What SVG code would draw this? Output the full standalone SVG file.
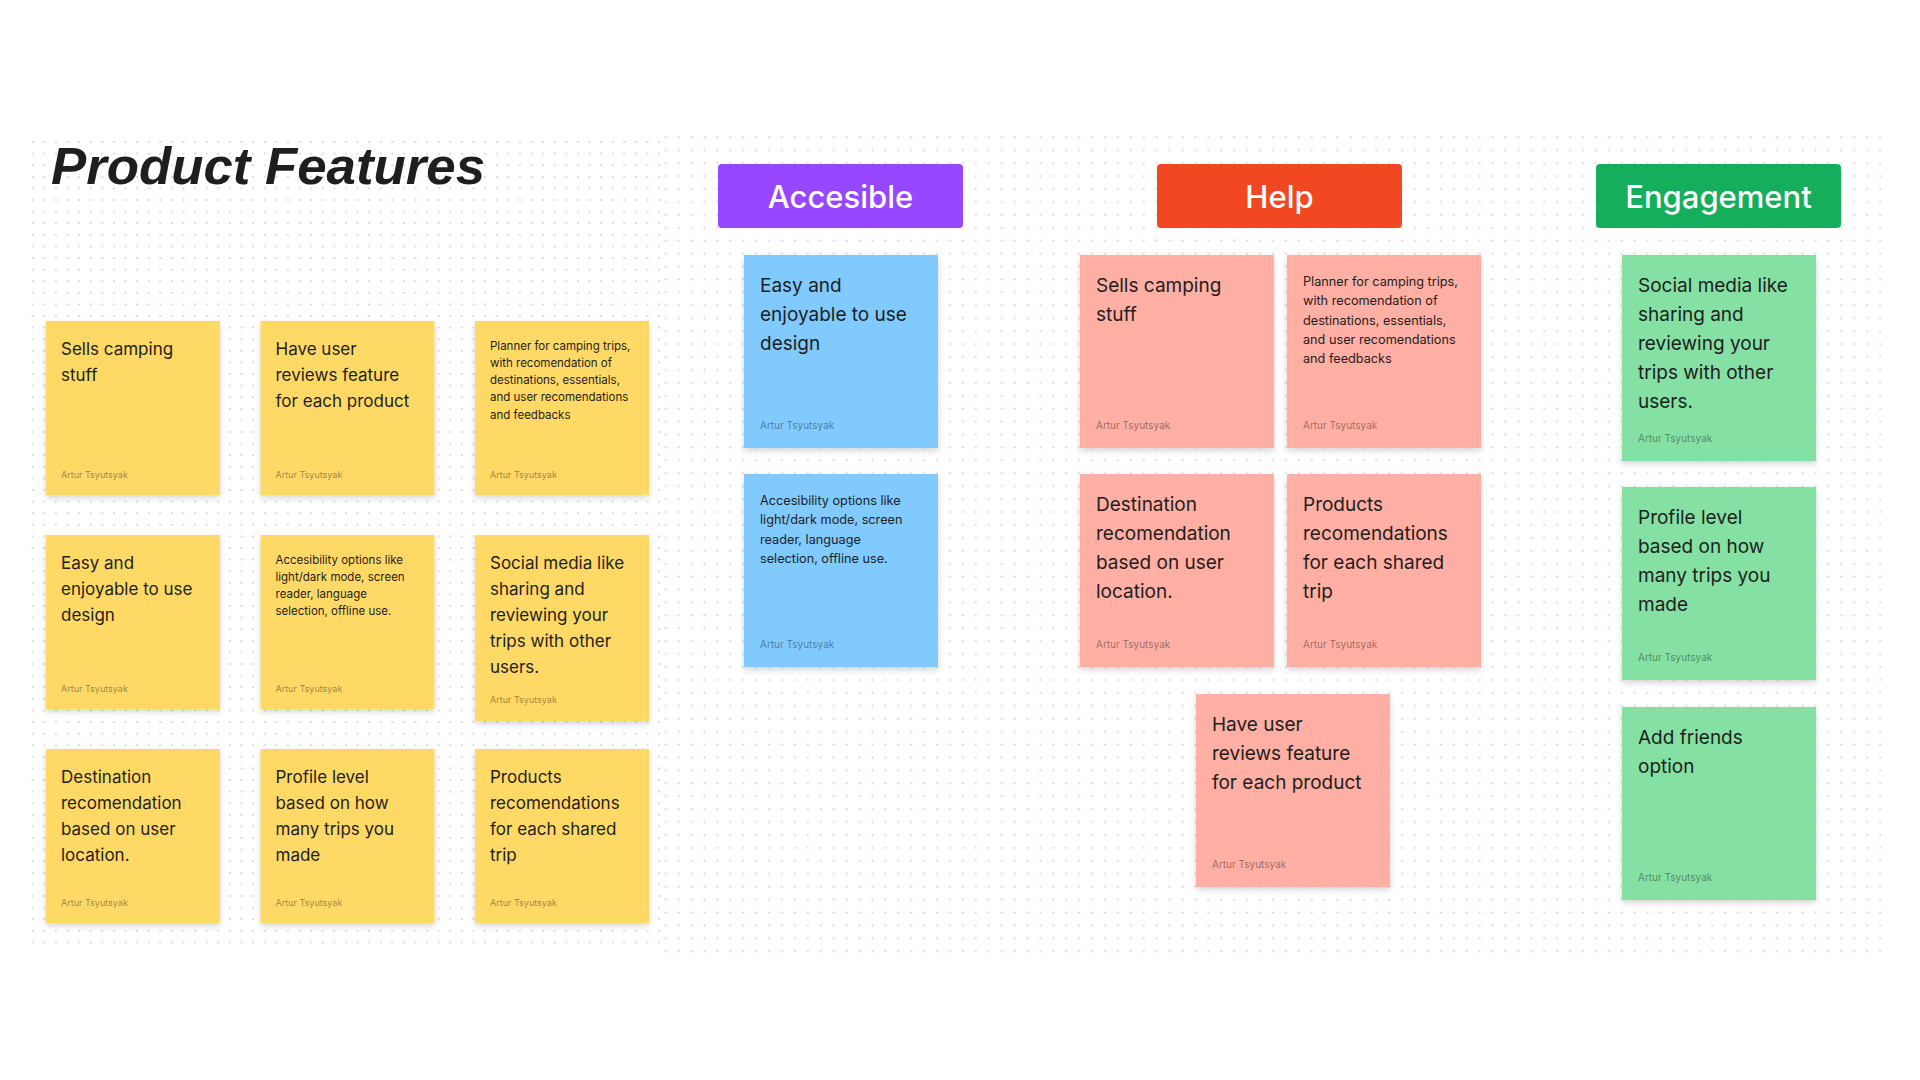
<svg xmlns="http://www.w3.org/2000/svg" width="1920" height="1080" viewBox="0 0 1920 1080">
  <defs>
    <pattern id="dots-a" patternUnits="userSpaceOnUse" x="26.9" y="136.2" width="11.6" height="11.6">
      <circle cx="5.8" cy="5.8" r="1.05" fill="#d2d2d2"/>
    </pattern>
    <pattern id="dots-b" patternUnits="userSpaceOnUse" x="659.24" y="130.84" width="12.92" height="12.92">
      <circle cx="6.46" cy="6.46" r="1.1" fill="#d2d2d2"/>
    </pattern>
    <filter id="sticky-shadow" x="-10%" y="-10%" width="120%" height="125%">
      <feDropShadow dx="0" dy="3" stdDeviation="3" flood-color="#000" flood-opacity="0.16"/>
    </filter>
  </defs>
  <style>
    .sticky { filter: url(#sticky-shadow); }
    .yellow { fill: #FFD966; }
    .blue { fill: #80CAFF; }
    .red { fill: #FFAFA3; }
    .green { fill: #85E0A3; }
    text { font-family: Inter, "Noto Sans", "Liberation Sans", sans-serif; }
    .lg { font-size: 17px; fill: #1E1E1E; }
    .sm { font-size: 11.5px; fill: #1E1E1E; }
    .au { font-size: 9px; fill: #000; fill-opacity: 0.42; }
    .lg2 { font-size: 19px; fill: #1E1E1E; }
    .sm2 { font-size: 12.7px; fill: #1E1E1E; }
    .au2 { font-size: 10px; fill: #000; fill-opacity: 0.42; }
    .hdr { font-size: 31px; font-weight: 500; fill: #FFFFFF; text-anchor: middle; }
    .title { font-family: "Liberation Sans", Arial, sans-serif; font-size: 52px; font-weight: bold; font-style: italic; fill: #1E1E1E; }
  </style>

  <rect width="1920" height="1080" fill="#FFFFFF"/>

  <!-- dotted canvas areas -->
  <rect x="26.9" y="136.2" width="638" height="812" fill="url(#dots-a)"/>
  <rect x="659.24" y="130.84" width="1227.4" height="826.9" fill="url(#dots-b)"/>

  <g id="title">
    <text class="title" x="51" y="184" textLength="434" lengthAdjust="spacingAndGlyphs">Product Features</text>
  </g>

  <!-- brainstorm stickies -->
  <g id="y-sells" transform="translate(46,321)">
    <rect class="sticky yellow" width="174" height="174"/>
    <text class="lg"><tspan x="15" y="34">Sells camping</tspan><tspan x="15" dy="26">stuff</tspan></text>
    <text class="au" x="15" y="157">Artur Tsyutsyak</text>
  </g>
  <g id="y-reviews" transform="translate(260.5,321)">
    <rect class="sticky yellow" width="174" height="174"/>
    <text class="lg"><tspan x="15" y="34">Have user</tspan><tspan x="15" dy="26">reviews feature</tspan><tspan x="15" dy="26">for each product</tspan></text>
    <text class="au" x="15" y="157">Artur Tsyutsyak</text>
  </g>
  <g id="y-planner" transform="translate(475,321)">
    <rect class="sticky yellow" width="174" height="174"/>
    <text class="sm"><tspan x="15" y="28.5">Planner for camping trips,</tspan><tspan x="15" dy="17.3">with recomendation of</tspan><tspan x="15" dy="17.3">destinations, essentials,</tspan><tspan x="15" dy="17.3">and user recomendations</tspan><tspan x="15" dy="17.3">and feedbacks</tspan></text>
    <text class="au" x="15" y="157">Artur Tsyutsyak</text>
  </g>
  <g id="y-easy" transform="translate(46,535)">
    <rect class="sticky yellow" width="174" height="174"/>
    <text class="lg"><tspan x="15" y="34">Easy and</tspan><tspan x="15" dy="26">enjoyable to use</tspan><tspan x="15" dy="26">design</tspan></text>
    <text class="au" x="15" y="157">Artur Tsyutsyak</text>
  </g>
  <g id="y-accessibility" transform="translate(260.5,535)">
    <rect class="sticky yellow" width="174" height="174"/>
    <text class="sm"><tspan x="15" y="28.5">Accesibility options like</tspan><tspan x="15" dy="17.3">light/dark mode, screen</tspan><tspan x="15" dy="17.3">reader, language</tspan><tspan x="15" dy="17.3">selection, offline use.</tspan></text>
    <text class="au" x="15" y="157">Artur Tsyutsyak</text>
  </g>
  <g id="y-social" transform="translate(475,535)">
    <rect class="sticky yellow" width="174" height="186"/>
    <text class="lg"><tspan x="15" y="34">Social media like</tspan><tspan x="15" dy="26">sharing and</tspan><tspan x="15" dy="26">reviewing your</tspan><tspan x="15" dy="26">trips with other</tspan><tspan x="15" dy="26">users.</tspan></text>
    <text class="au" x="15" y="168">Artur Tsyutsyak</text>
  </g>
  <g id="y-destination" transform="translate(46,749)">
    <rect class="sticky yellow" width="174" height="174"/>
    <text class="lg"><tspan x="15" y="34">Destination</tspan><tspan x="15" dy="26">recomendation</tspan><tspan x="15" dy="26">based on user</tspan><tspan x="15" dy="26">location.</tspan></text>
    <text class="au" x="15" y="157">Artur Tsyutsyak</text>
  </g>
  <g id="y-profile" transform="translate(260.5,749)">
    <rect class="sticky yellow" width="174" height="174"/>
    <text class="lg"><tspan x="15" y="34">Profile level</tspan><tspan x="15" dy="26">based on how</tspan><tspan x="15" dy="26">many trips you</tspan><tspan x="15" dy="26">made</tspan></text>
    <text class="au" x="15" y="157">Artur Tsyutsyak</text>
  </g>
  <g id="y-products" transform="translate(475,749)">
    <rect class="sticky yellow" width="174" height="174"/>
    <text class="lg"><tspan x="15" y="34">Products</tspan><tspan x="15" dy="26">recomendations</tspan><tspan x="15" dy="26">for each shared</tspan><tspan x="15" dy="26">trip</tspan></text>
    <text class="au" x="15" y="157">Artur Tsyutsyak</text>
  </g>

  <!-- category headers -->
  <g id="h-accesible" transform="translate(718,164)">
    <rect width="245" height="64" rx="4" fill="#9747FF"/>
    <text class="hdr" x="122.5" y="44">Accesible</text>
  </g>
  <g id="h-help" transform="translate(1157,164)">
    <rect width="245" height="64" rx="4" fill="#F24822"/>
    <text class="hdr" x="122.5" y="44">Help</text>
  </g>
  <g id="h-engagement" transform="translate(1596,164)">
    <rect width="245" height="64" rx="4" fill="#14AE5C"/>
    <text class="hdr" x="122.5" y="44">Engagement</text>
  </g>

  <!-- Accesible column -->
  <g id="b-easy" transform="translate(744,255)">
    <rect class="sticky blue" width="194" height="193"/>
    <text class="lg2"><tspan x="16" y="37">Easy and</tspan><tspan x="16" dy="29">enjoyable to use</tspan><tspan x="16" dy="29">design</tspan></text>
    <text class="au2" x="16" y="174">Artur Tsyutsyak</text>
  </g>
  <g id="b-accessibility" transform="translate(744,474)">
    <rect class="sticky blue" width="194" height="193"/>
    <text class="sm2"><tspan x="16" y="31">Accesibility options like</tspan><tspan x="16" dy="19.3">light/dark mode, screen</tspan><tspan x="16" dy="19.3">reader, language</tspan><tspan x="16" dy="19.3">selection, offline use.</tspan></text>
    <text class="au2" x="16" y="174">Artur Tsyutsyak</text>
  </g>

  <!-- Help column -->
  <g id="r-sells" transform="translate(1080,255)">
    <rect class="sticky red" width="194" height="193"/>
    <text class="lg2"><tspan x="16" y="37">Sells camping</tspan><tspan x="16" dy="29">stuff</tspan></text>
    <text class="au2" x="16" y="174">Artur Tsyutsyak</text>
  </g>
  <g id="r-planner" transform="translate(1287,255)">
    <rect class="sticky red" width="194" height="193"/>
    <text class="sm2"><tspan x="16" y="31">Planner for camping trips,</tspan><tspan x="16" dy="19.3">with recomendation of</tspan><tspan x="16" dy="19.3">destinations, essentials,</tspan><tspan x="16" dy="19.3">and user recomendations</tspan><tspan x="16" dy="19.3">and feedbacks</tspan></text>
    <text class="au2" x="16" y="174">Artur Tsyutsyak</text>
  </g>
  <g id="r-destination" transform="translate(1080,474)">
    <rect class="sticky red" width="194" height="193"/>
    <text class="lg2"><tspan x="16" y="37">Destination</tspan><tspan x="16" dy="29">recomendation</tspan><tspan x="16" dy="29">based on user</tspan><tspan x="16" dy="29">location.</tspan></text>
    <text class="au2" x="16" y="174">Artur Tsyutsyak</text>
  </g>
  <g id="r-products" transform="translate(1287,474)">
    <rect class="sticky red" width="194" height="193"/>
    <text class="lg2"><tspan x="16" y="37">Products</tspan><tspan x="16" dy="29">recomendations</tspan><tspan x="16" dy="29">for each shared</tspan><tspan x="16" dy="29">trip</tspan></text>
    <text class="au2" x="16" y="174">Artur Tsyutsyak</text>
  </g>
  <g id="r-reviews" transform="translate(1196,694)">
    <rect class="sticky red" width="194" height="193"/>
    <text class="lg2"><tspan x="16" y="37">Have user</tspan><tspan x="16" dy="29">reviews feature</tspan><tspan x="16" dy="29">for each product</tspan></text>
    <text class="au2" x="16" y="174">Artur Tsyutsyak</text>
  </g>

  <!-- Engagement column -->
  <g id="g-social" transform="translate(1622,255)">
    <rect class="sticky green" width="194" height="206"/>
    <text class="lg2"><tspan x="16" y="37">Social media like</tspan><tspan x="16" dy="29">sharing and</tspan><tspan x="16" dy="29">reviewing your</tspan><tspan x="16" dy="29">trips with other</tspan><tspan x="16" dy="29">users.</tspan></text>
    <text class="au2" x="16" y="187">Artur Tsyutsyak</text>
  </g>
  <g id="g-profile" transform="translate(1622,487)">
    <rect class="sticky green" width="194" height="193"/>
    <text class="lg2"><tspan x="16" y="37">Profile level</tspan><tspan x="16" dy="29">based on how</tspan><tspan x="16" dy="29">many trips you</tspan><tspan x="16" dy="29">made</tspan></text>
    <text class="au2" x="16" y="174">Artur Tsyutsyak</text>
  </g>
  <g id="g-friends" transform="translate(1622,707)">
    <rect class="sticky green" width="194" height="193"/>
    <text class="lg2"><tspan x="16" y="37">Add friends</tspan><tspan x="16" dy="29">option</tspan></text>
    <text class="au2" x="16" y="174">Artur Tsyutsyak</text>
  </g>
</svg>
